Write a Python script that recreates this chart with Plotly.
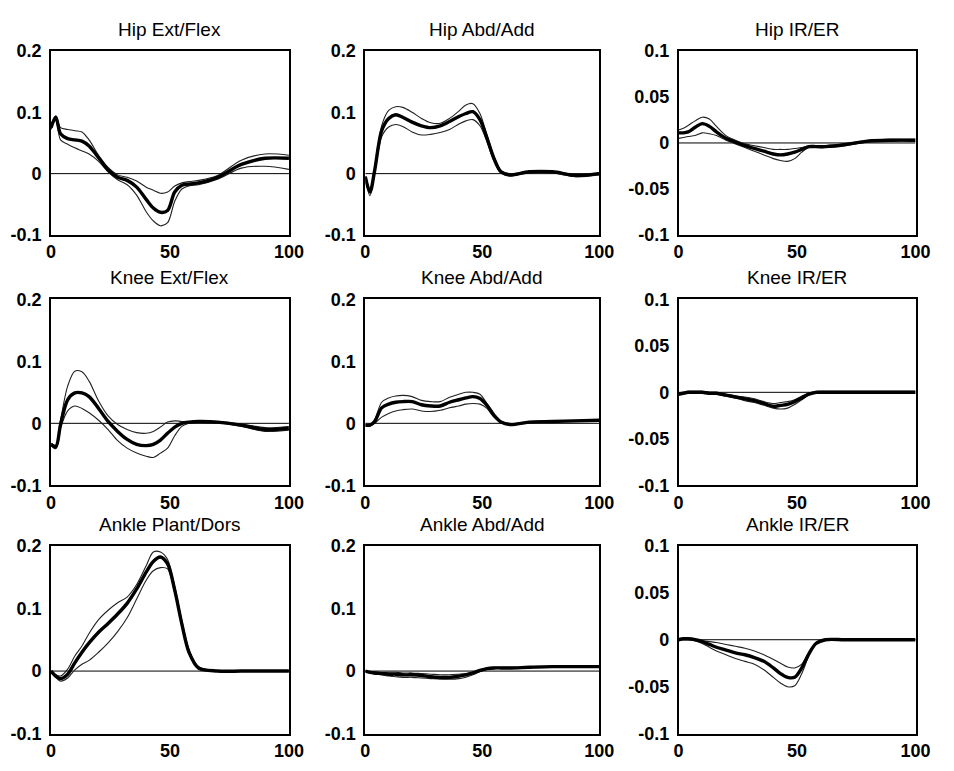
import plotly.graph_objects as go

# Percent of stance phase (shared sample points for every curve)
X_PCT = [0, 2, 4, 7, 10, 13, 16, 20, 24, 28, 32, 36, 40, 43, 46, 49, 52, 55, 58, 62, 70, 80, 90, 100]

TITLES = ["Hip Ext/Flex", "Hip Abd/Add", "Hip IR/ER",
          "Knee Ext/Flex", "Knee Abd/Add", "Knee IR/ER",
          "Ankle Plant/Dors", "Ankle Abd/Add", "Ankle IR/ER"]

# Hip extension / flexion
HIP_FLEX_MEAN = [0.075, 0.092, 0.065, 0.057, 0.055, 0.053, 0.045, 0.026, 0.006, -0.006, -0.011, -0.022,
                 -0.042, -0.056, -0.063, -0.060, -0.030, -0.019, -0.017, -0.015, -0.006, 0.015, 0.025, 0.025]
HIP_FLEX_UPPER = [0.078, 0.094, 0.075, 0.072, 0.070, 0.068, 0.055, 0.030, 0.010, -0.002, -0.006, -0.012,
                  -0.022, -0.027, -0.032, -0.030, -0.020, -0.015, -0.013, -0.011, -0.003, 0.022, 0.032, 0.030]
HIP_FLEX_LOWER = [0.072, 0.088, 0.055, 0.048, 0.042, 0.037, 0.032, 0.020, 0.003, -0.010, -0.018, -0.035,
                  -0.062, -0.077, -0.085, -0.080, -0.045, -0.025, -0.020, -0.018, -0.009, 0.009, 0.012, 0.007]

# Hip abduction / adduction
HIP_ABD_MEAN = [-0.005, -0.030, 0.005, 0.070, 0.090, 0.096, 0.092, 0.084, 0.078, 0.075, 0.078, 0.085,
                0.093, 0.098, 0.101, 0.088, 0.058, 0.025, 0.003, -0.002, 0.003, 0.003, -0.003, 0.000]
HIP_ABD_UPPER = [-0.004, -0.025, 0.008, 0.078, 0.103, 0.109, 0.108, 0.100, 0.090, 0.083, 0.082, 0.090,
                 0.102, 0.112, 0.114, 0.098, 0.063, 0.028, 0.005, 0.000, 0.004, 0.004, -0.001, 0.001]
HIP_ABD_LOWER = [-0.007, -0.036, 0.000, 0.060, 0.076, 0.080, 0.077, 0.068, 0.063, 0.064, 0.067, 0.072,
                 0.081, 0.086, 0.088, 0.078, 0.052, 0.020, 0.001, -0.004, 0.002, 0.001, -0.005, -0.002]

# Hip internal / external rotation
HIP_ROT_MEAN = [0.011, 0.011, 0.012, 0.017, 0.021, 0.018, 0.012, 0.005, 0.001, -0.003, -0.006, -0.009,
                -0.012, -0.013, -0.012, -0.010, -0.007, -0.004, -0.004, -0.004, -0.002, 0.002, 0.003, 0.003]
HIP_ROT_UPPER = [0.014, 0.016, 0.019, 0.024, 0.028, 0.026, 0.018, 0.008, 0.003, -0.001, -0.003, -0.005,
                 -0.007, -0.007, -0.007, -0.006, -0.005, -0.003, -0.003, -0.003, -0.001, 0.003, 0.004, 0.004]
HIP_ROT_LOWER = [0.005, 0.006, 0.007, 0.008, 0.011, 0.010, 0.008, 0.003, -0.001, -0.005, -0.009, -0.013,
                 -0.017, -0.019, -0.020, -0.017, -0.010, -0.005, -0.005, -0.005, -0.003, 0.001, 0.002, 0.002]

# Knee extension / flexion
KNEE_FLEX_MEAN = [-0.034, -0.038, -0.002, 0.038, 0.049, 0.049, 0.043, 0.024, 0.003, -0.013, -0.026, -0.034,
                  -0.036, -0.034, -0.027, -0.016, -0.006, 0.000, 0.002, 0.003, 0.002, -0.003, -0.010, -0.008]
KNEE_FLEX_UPPER = [-0.032, -0.035, 0.005, 0.060, 0.084, 0.083, 0.068, 0.036, 0.012, -0.002, -0.010, -0.015,
                   -0.016, -0.013, -0.006, 0.002, 0.004, 0.003, 0.003, 0.004, 0.003, -0.001, -0.007, -0.005]
KNEE_FLEX_LOWER = [-0.036, -0.041, -0.008, 0.020, 0.028, 0.024, 0.017, 0.005, -0.010, -0.028, -0.040, -0.048,
                   -0.053, -0.055, -0.048, -0.040, -0.020, -0.005, 0.000, 0.002, 0.001, -0.005, -0.013, -0.011]

# Knee abduction / adduction
KNEE_ABD_MEAN = [-0.003, -0.003, 0.003, 0.025, 0.031, 0.034, 0.035, 0.035, 0.030, 0.028, 0.028, 0.034,
                 0.038, 0.041, 0.043, 0.040, 0.029, 0.013, 0.002, -0.002, 0.002, 0.003, 0.004, 0.005]
KNEE_ABD_UPPER = [-0.002, -0.002, 0.006, 0.034, 0.041, 0.044, 0.045, 0.043, 0.037, 0.035, 0.035, 0.042,
                  0.047, 0.050, 0.050, 0.047, 0.032, 0.015, 0.003, -0.001, 0.003, 0.004, 0.005, 0.006]
KNEE_ABD_LOWER = [-0.004, -0.004, 0.000, 0.010, 0.016, 0.020, 0.022, 0.023, 0.020, 0.019, 0.021, 0.025,
                  0.028, 0.031, 0.032, 0.031, 0.024, 0.010, 0.001, -0.003, 0.001, 0.002, 0.003, 0.004]

# Knee internal / external rotation
KNEE_ROT_MEAN = [-0.002, -0.001, 0.000, 0.000, 0.000, -0.001, -0.001, -0.003, -0.005, -0.007, -0.009, -0.012,
                 -0.015, -0.014, -0.013, -0.010, -0.006, -0.002, 0.000, 0.000, 0.000, 0.000, 0.000, 0.000]
KNEE_ROT_UPPER = [-0.001, 0.000, 0.001, 0.001, 0.001, 0.000, 0.000, -0.002, -0.004, -0.005, -0.007, -0.010,
                  -0.012, -0.011, -0.010, -0.008, -0.004, -0.001, 0.001, 0.001, 0.001, 0.001, 0.001, 0.001]
KNEE_ROT_LOWER = [-0.003, -0.002, -0.001, -0.001, -0.001, -0.002, -0.002, -0.004, -0.006, -0.009, -0.011, -0.014,
                  -0.017, -0.018, -0.017, -0.013, -0.008, -0.003, -0.001, -0.001, -0.001, -0.001, -0.001, -0.001]

# Ankle plantarflexion / dorsiflexion
ANKLE_FLEX_MEAN = [0.000, -0.008, -0.012, -0.005, 0.013, 0.030, 0.045, 0.062, 0.076, 0.091, 0.108, 0.131,
                   0.158, 0.175, 0.182, 0.171, 0.129, 0.075, 0.030, 0.005, 0.000, 0.000, 0.000, 0.000]
ANKLE_FLEX_UPPER = [0.000, -0.006, -0.008, 0.003, 0.024, 0.040, 0.060, 0.082, 0.097, 0.109, 0.118, 0.138,
                    0.168, 0.190, 0.190, 0.178, 0.135, 0.080, 0.034, 0.007, 0.000, 0.000, 0.000, 0.000]
ANKLE_FLEX_LOWER = [0.000, -0.010, -0.016, -0.011, 0.002, 0.011, 0.017, 0.030, 0.045, 0.063, 0.085, 0.115,
                    0.145, 0.160, 0.165, 0.163, 0.125, 0.072, 0.028, 0.003, 0.000, 0.000, 0.000, 0.000]

# Ankle abduction / adduction
ANKLE_ABD_MEAN = [0.000, -0.002, -0.003, -0.004, -0.005, -0.005, -0.006, -0.006, -0.007, -0.009, -0.010, -0.010,
                  -0.008, -0.006, -0.003, 0.001, 0.004, 0.005, 0.005, 0.005, 0.006, 0.007, 0.007, 0.007]
ANKLE_ABD_UPPER = [0.000, -0.001, -0.001, -0.002, -0.002, -0.002, -0.003, -0.003, -0.004, -0.005, -0.006, -0.006,
                   -0.005, -0.004, -0.002, 0.002, 0.005, 0.006, 0.006, 0.006, 0.007, 0.008, 0.008, 0.008]
ANKLE_ABD_LOWER = [0.000, -0.003, -0.005, -0.006, -0.008, -0.009, -0.010, -0.010, -0.011, -0.012, -0.013, -0.013,
                   -0.012, -0.010, -0.006, -0.001, 0.003, 0.004, 0.004, 0.004, 0.005, 0.006, 0.006, 0.006]

# Ankle internal / external rotation
ANKLE_ROT_MEAN = [0.000, 0.001, 0.001, 0.000, -0.002, -0.005, -0.008, -0.011, -0.014, -0.016, -0.019, -0.023,
                  -0.030, -0.036, -0.040, -0.040, -0.030, -0.015, -0.004, 0.000, 0.000, 0.000, 0.000, 0.000]
ANKLE_ROT_UPPER = [0.000, 0.001, 0.001, 0.000, -0.001, -0.002, -0.003, -0.005, -0.007, -0.009, -0.012, -0.016,
                   -0.021, -0.025, -0.029, -0.030, -0.026, -0.014, -0.004, 0.000, 0.000, 0.000, 0.000, 0.000]
ANKLE_ROT_LOWER = [0.000, 0.000, 0.000, -0.001, -0.004, -0.008, -0.012, -0.016, -0.020, -0.023, -0.026, -0.032,
                   -0.040, -0.046, -0.050, -0.049, -0.036, -0.017, -0.005, 0.000, 0.000, 0.000, 0.000, 0.000]

X_TICKS = [0, 50, 100]
Y_TICKS_WIDE = [0.2, 0.1, 0, -0.1]
Y_TICKS_NARROW = [0.1, 0.05, 0, -0.05, -0.1]

PANELS = [
    (HIP_FLEX_MEAN, HIP_FLEX_UPPER, HIP_FLEX_LOWER),
    (HIP_ABD_MEAN, HIP_ABD_UPPER, HIP_ABD_LOWER),
    (HIP_ROT_MEAN, HIP_ROT_UPPER, HIP_ROT_LOWER),
    (KNEE_FLEX_MEAN, KNEE_FLEX_UPPER, KNEE_FLEX_LOWER),
    (KNEE_ABD_MEAN, KNEE_ABD_UPPER, KNEE_ABD_LOWER),
    (KNEE_ROT_MEAN, KNEE_ROT_UPPER, KNEE_ROT_LOWER),
    (ANKLE_FLEX_MEAN, ANKLE_FLEX_UPPER, ANKLE_FLEX_LOWER),
    (ANKLE_ABD_MEAN, ANKLE_ABD_UPPER, ANKLE_ABD_LOWER),
    (ANKLE_ROT_MEAN, ANKLE_ROT_UPPER, ANKLE_ROT_LOWER),
]

W, H = 954, 771
COL_PX = [(47, 290), (368, 607), (688, 930)]
ROW_PX = [(42, 231), (297, 488), (550, 743)]


def fmt(v):
    return "0" if v == 0 else ("%g" % v)


FONT = "Liberation Sans, Arial, sans-serif"
fig = go.Figure()
annotations = []
layout_axes = {}

for i, (mean, upper, lower) in enumerate(PANELS):
    r, c = divmod(i, 3)
    n = i + 1
    xa = "x" if n == 1 else f"x{n}"
    ya = "y" if n == 1 else f"y{n}"
    x0, x1 = COL_PX[c]
    y0, y1 = ROW_PX[r]
    xdom = [x0 / W, x1 / W]
    ydom = [1 - y1 / H, 1 - y0 / H]

    # zero reference line
    fig.add_trace(go.Scatter(x=[X_PCT[0], X_PCT[-1]], y=[0, 0], mode="lines",
                             line=dict(color="black", width=1), xaxis=xa, yaxis=ya,
                             showlegend=False, hoverinfo="skip"))
    for band in (upper, lower):
        fig.add_trace(go.Scatter(x=X_PCT, y=band, mode="lines",
                                 line=dict(color="#222", width=1.1, shape="spline", smoothing=0.9),
                                 xaxis=xa, yaxis=ya, showlegend=False))
    fig.add_trace(go.Scatter(x=X_PCT, y=mean, mode="lines",
                             line=dict(color="black", width=3.4, shape="spline", smoothing=0.9),
                             xaxis=xa, yaxis=ya, showlegend=False))

    yt = Y_TICKS_NARROW if c == 2 else Y_TICKS_WIDE
    yr = [-0.1, 0.1] if c == 2 else [-0.1, 0.2]
    axis_common = dict(showline=True, linecolor="black", linewidth=1.6, mirror=True,
                       showgrid=False, zeroline=False, ticks="",
                       tickfont=dict(family=FONT, size=18, color="black", weight="bold"))
    layout_axes["xaxis" if n == 1 else f"xaxis{n}"] = dict(
        domain=xdom, range=[0, 100], anchor=ya, tickmode="array",
        tickvals=X_TICKS, ticktext=[fmt(v) for v in X_TICKS], **axis_common)
    layout_axes["yaxis" if n == 1 else f"yaxis{n}"] = dict(
        domain=ydom, range=yr, anchor=xa, tickmode="array", ticklabelstandoff=4,
        tickvals=yt, ticktext=[fmt(v) for v in yt], **axis_common)

    annotations.append(dict(text=TITLES[i], x=(xdom[0] + xdom[1]) / 2, y=ydom[1],
                            xref="paper", yref="paper", xanchor="center", yanchor="bottom",
                            yshift=10, borderpad=0, showarrow=False,
                            font=dict(family=FONT, size=19, color="black")))

fig.update_layout(width=W, height=H, margin=dict(l=0, r=0, t=0, b=0),
                  paper_bgcolor="white", plot_bgcolor="white",
                  annotations=annotations, **layout_axes)

fig.write_html("out.html")
